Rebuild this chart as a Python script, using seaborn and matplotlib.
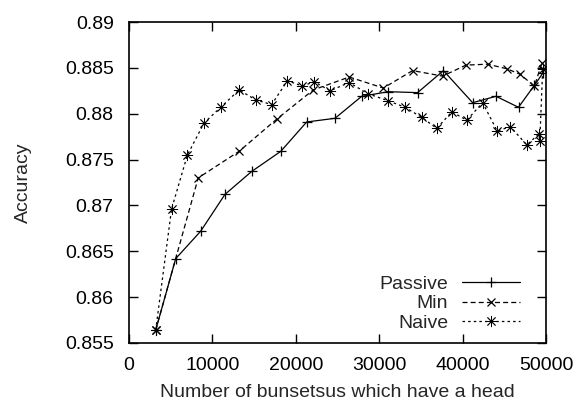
import pandas as pd
import numpy as np
import matplotlib
matplotlib.use("Agg")
import matplotlib.pyplot as plt
import seaborn as sns

# values
passive_x = [3200, 5600, 8600, 11500, 14700, 18200, 21300, 24700, 27900, 31100,
             34600, 37700, 41200, 44000, 46700, 48600, 49600]
passive_y = [0.8564, 0.8642, 0.8672, 0.8712, 0.8737, 0.8759, 0.8791, 0.8795, 0.8819, 0.8824,
             0.8823, 0.8847, 0.8812, 0.8819, 0.8807, 0.8831, 0.8844]

min_x = [3200, 8300, 13200, 17700, 22100, 26400, 30500, 34000, 37600, 40400,
         43000, 45300, 46900, 48600, 49500]
min_y = [0.8564, 0.8730, 0.8759, 0.8794, 0.8826, 0.8840, 0.8828, 0.8847, 0.8841, 0.8853,
         0.8854, 0.8849, 0.8843, 0.8830, 0.8855]

naive_x = [3200, 5100, 7000, 9000, 11000, 13200, 15200, 17100, 19000, 20800,
           22200, 24100, 26400, 28600, 31100, 33100, 35100, 36900, 38700, 40500,
           42400, 44150, 45700, 47700, 49150, 49250, 49600]
naive_y = [0.8564, 0.8696, 0.8755, 0.8790, 0.8807, 0.8826, 0.8815, 0.8810, 0.8836, 0.8830,
           0.8835, 0.8825, 0.8834, 0.8822, 0.8814, 0.8807, 0.8796, 0.8784, 0.8802, 0.8793,
           0.8812, 0.8781, 0.8786, 0.8766, 0.8778, 0.8770, 0.8849]

x_ticks = [0, 10000, 20000, 30000, 40000, 50000]
y_ticks = [0.855, 0.86, 0.865, 0.87, 0.875, 0.88, 0.885, 0.89]

sns.set_style("ticks")
plt.rcParams['font.family'] = ['Liberation Sans', 'DejaVu Sans']
fs = 14

fig = plt.figure(figsize=(5.78, 4.03), dpi=100)
ax = fig.add_axes([0.2232, 0.1489, 0.7215, 0.7965])

# gnuplot-style asterisk: a plus and a cross on top of each other
star = (8, 2, 0)
common = dict(ax=ax, sort=False, estimator=None, color='black', linewidth=0.9,
              markeredgecolor='black')
sns.lineplot(x=passive_x, y=passive_y, marker='+', markersize=7, markeredgewidth=0.9,
             label='Passive', **common)
sns.lineplot(x=min_x, y=min_y, linestyle=(0, (4, 2.5)), marker='x', markersize=6,
             markeredgewidth=0.9, label='Min', **common)
sns.lineplot(x=naive_x, y=naive_y, linestyle=(0, (2, 2.5)), marker=star, markersize=8,
             markeredgewidth=0.6, label='Naive', **common)

ax.set_xlim(0, 50000)
ax.set_ylim(0.855, 0.89)
ax.set_xticks(x_ticks)
ax.set_yticks(y_ticks)
ax.set_yticklabels(['%g' % v for v in y_ticks])
ax.set_xticklabels([str(v) for v in x_ticks])
ax.tick_params(direction='in', length=6.5, width=1, top=True, right=True,
               colors='black', labelsize=fs)
ax.tick_params(axis='x', pad=10)
ax.tick_params(axis='y', pad=11)
for s in ax.spines.values():
    s.set_linewidth(1.2)
    s.set_color('black')

ax.set_xlabel('Number of bunsetsus which have a head', fontsize=fs, labelpad=7)
ax.set_ylabel('Accuracy', fontsize=fs, labelpad=24)

ax.legend(loc='lower right', bbox_to_anchor=(0.98, -0.02), frameon=False,
          markerfirst=False, handlelength=3.0, handletextpad=0.7,
          labelspacing=0.1, fontsize=fs)

fig.savefig('out.png', dpi=100)
